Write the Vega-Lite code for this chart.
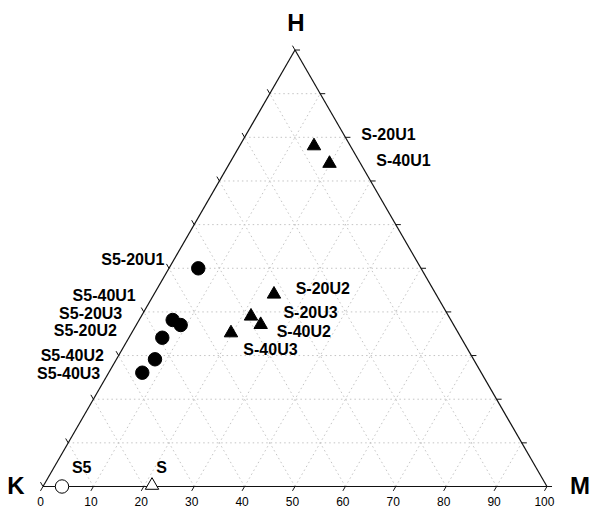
{
  "$schema": "https://vega.github.io/schema/vega-lite/v6.json",
  "width": 594,
  "height": 509,
  "autosize": {"type": "none"},
  "padding": 0,
  "background": "white",
  "config": {"view": {"stroke": null}},
  "datasets": {
    "grid": [
      {"x": 5, "y": 8.660, "x2": 95, "y2": 8.660},
      {"x": 10, "y": 17.321, "x2": 90, "y2": 17.321},
      {"x": 15, "y": 25.981, "x2": 85, "y2": 25.981},
      {"x": 20, "y": 34.641, "x2": 80, "y2": 34.641},
      {"x": 25, "y": 43.301, "x2": 75, "y2": 43.301},
      {"x": 30, "y": 51.962, "x2": 70, "y2": 51.962},
      {"x": 35, "y": 60.622, "x2": 65, "y2": 60.622},
      {"x": 40, "y": 69.282, "x2": 60, "y2": 69.282},
      {"x": 45, "y": 77.942, "x2": 55, "y2": 77.942},
      {"x": 10, "y": 0, "x2": 55, "y2": 77.942},
      {"x": 20, "y": 0, "x2": 60, "y2": 69.282},
      {"x": 30, "y": 0, "x2": 65, "y2": 60.622},
      {"x": 40, "y": 0, "x2": 70, "y2": 51.962},
      {"x": 50, "y": 0, "x2": 75, "y2": 43.301},
      {"x": 60, "y": 0, "x2": 80, "y2": 34.641},
      {"x": 70, "y": 0, "x2": 85, "y2": 25.981},
      {"x": 80, "y": 0, "x2": 90, "y2": 17.321},
      {"x": 90, "y": 0, "x2": 95, "y2": 8.660},
      {"x": 10, "y": 0, "x2": 5, "y2": 8.660},
      {"x": 20, "y": 0, "x2": 10, "y2": 17.321},
      {"x": 30, "y": 0, "x2": 15, "y2": 25.981},
      {"x": 40, "y": 0, "x2": 20, "y2": 34.641},
      {"x": 50, "y": 0, "x2": 25, "y2": 43.301},
      {"x": 60, "y": 0, "x2": 30, "y2": 51.962},
      {"x": 70, "y": 0, "x2": 35, "y2": 60.622},
      {"x": 80, "y": 0, "x2": 40, "y2": 69.282},
      {"x": 90, "y": 0, "x2": 45, "y2": 77.942}
    ],
    "edges": [
      {"x": 0, "y": 0, "x2": 100, "y2": 0},
      {"x": 0, "y": 0, "x2": 50, "y2": 86.603},
      {"x": 100, "y": 0, "x2": 50, "y2": 86.603}
    ],
    "ticks": [
      {"x": 0, "y": 0, "x2": -0.5, "y2": -0.866},
      {"x": 10, "y": 0, "x2": 9.5, "y2": -0.866},
      {"x": 20, "y": 0, "x2": 19.5, "y2": -0.866},
      {"x": 30, "y": 0, "x2": 29.5, "y2": -0.866},
      {"x": 40, "y": 0, "x2": 39.5, "y2": -0.866},
      {"x": 50, "y": 0, "x2": 49.5, "y2": -0.866},
      {"x": 60, "y": 0, "x2": 59.5, "y2": -0.866},
      {"x": 70, "y": 0, "x2": 69.5, "y2": -0.866},
      {"x": 80, "y": 0, "x2": 79.5, "y2": -0.866},
      {"x": 90, "y": 0, "x2": 89.5, "y2": -0.866},
      {"x": 100, "y": 0, "x2": 99.5, "y2": -0.866},
      {"x": 0, "y": 0, "x2": -0.5, "y2": 0.866},
      {"x": 5, "y": 8.660, "x2": 4.5, "y2": 9.526},
      {"x": 10, "y": 17.321, "x2": 9.5, "y2": 18.187},
      {"x": 15, "y": 25.981, "x2": 14.5, "y2": 26.847},
      {"x": 20, "y": 34.641, "x2": 19.5, "y2": 35.507},
      {"x": 25, "y": 43.301, "x2": 24.5, "y2": 44.167},
      {"x": 30, "y": 51.962, "x2": 29.5, "y2": 52.828},
      {"x": 35, "y": 60.622, "x2": 34.5, "y2": 61.488},
      {"x": 40, "y": 69.282, "x2": 39.5, "y2": 70.148},
      {"x": 45, "y": 77.942, "x2": 44.5, "y2": 78.808},
      {"x": 50, "y": 86.603, "x2": 49.5, "y2": 87.469},
      {"x": 100, "y": 0, "x2": 101, "y2": 0},
      {"x": 95, "y": 8.660, "x2": 96, "y2": 8.660},
      {"x": 90, "y": 17.321, "x2": 91, "y2": 17.321},
      {"x": 85, "y": 25.981, "x2": 86, "y2": 25.981},
      {"x": 80, "y": 34.641, "x2": 81, "y2": 34.641},
      {"x": 75, "y": 43.301, "x2": 76, "y2": 43.301},
      {"x": 70, "y": 51.962, "x2": 71, "y2": 51.962},
      {"x": 65, "y": 60.622, "x2": 66, "y2": 60.622},
      {"x": 60, "y": 69.282, "x2": 61, "y2": 69.282},
      {"x": 55, "y": 77.942, "x2": 56, "y2": 77.942},
      {"x": 50, "y": 86.603, "x2": 51, "y2": 86.603}
    ],
    "ticklabels": [
      {"x": -0.5, "y": -3.1, "label": "0"},
      {"x": 9.5, "y": -3.1, "label": "10"},
      {"x": 19.5, "y": -3.1, "label": "20"},
      {"x": 29.5, "y": -3.1, "label": "30"},
      {"x": 39.5, "y": -3.1, "label": "40"},
      {"x": 49.5, "y": -3.1, "label": "50"},
      {"x": 59.5, "y": -3.1, "label": "60"},
      {"x": 69.5, "y": -3.1, "label": "70"},
      {"x": 79.5, "y": -3.1, "label": "80"},
      {"x": 89.5, "y": -3.1, "label": "90"},
      {"x": 99.5, "y": -3.1, "label": "100"}
    ],
    "vertices": [
      {"x": 50.2, "y": 91.77, "label": "H"},
      {"x": -5.36, "y": 0, "label": "K"},
      {"x": 106.55, "y": 0, "label": "M"}
    ],
    "points": [
      {"sample": "S-20U1", "series": "S", "treated": "yes", "x": 53.77, "y": 67.96},
      {"sample": "S-40U1", "series": "S", "treated": "yes", "x": 56.85, "y": 64.48},
      {"sample": "S-20U2", "series": "S", "treated": "yes", "x": 45.83, "y": 38.53},
      {"sample": "S-20U3", "series": "S", "treated": "yes", "x": 41.27, "y": 34.17},
      {"sample": "S-40U2", "series": "S", "treated": "yes", "x": 43.19, "y": 32.50},
      {"sample": "S-40U3", "series": "S", "treated": "yes", "x": 37.30, "y": 30.85},
      {"sample": "S5-20U1", "series": "S5", "treated": "yes", "x": 30.81, "y": 43.29},
      {"sample": "S5-40U1", "series": "S5", "treated": "yes", "x": 25.73, "y": 33.04},
      {"sample": "S5-20U3", "series": "S5", "treated": "yes", "x": 27.32, "y": 32.04},
      {"sample": "S5-20U2", "series": "S5", "treated": "yes", "x": 23.67, "y": 29.52},
      {"sample": "S5-40U2", "series": "S5", "treated": "yes", "x": 22.22, "y": 25.24},
      {"sample": "S5-40U3", "series": "S5", "treated": "yes", "x": 19.70, "y": 22.58},
      {"sample": "S5", "series": "S5", "treated": "no", "x": 3.77, "y": 0},
      {"sample": "S", "series": "S", "treated": "no", "x": 21.63, "y": 0.6}
    ],
    "labels": [
      {"label": "S-20U1", "x": 68.55, "y": 69.84},
      {"label": "S-40U1", "x": 71.53, "y": 64.58},
      {"label": "S5-20U1", "x": 17.82, "y": 44.94},
      {"label": "S-20U2", "x": 55.52, "y": 39.19},
      {"label": "S-20U3", "x": 53.08, "y": 34.52},
      {"label": "S-40U2", "x": 51.75, "y": 30.65},
      {"label": "S-40U3", "x": 45.14, "y": 27.08},
      {"label": "S5-40U1", "x": 12.14, "y": 37.80},
      {"label": "S5-20U3", "x": 9.46, "y": 34.23},
      {"label": "S5-20U2", "x": 8.39, "y": 30.85},
      {"label": "S5-40U2", "x": 5.81, "y": 25.89},
      {"label": "S5-40U3", "x": 5.10, "y": 22.32},
      {"label": "S5", "x": 7.68, "y": 3.77},
      {"label": "S", "x": 23.55, "y": 3.77}
    ]
  },
  "layer": [
    {
      "data": {"name": "grid"},
      "mark": {"type": "rule", "color": "#c4c4c4", "strokeWidth": 1, "strokeDash": [1.5, 3]},
      "encoding": {
        "x": {"field": "x", "type": "quantitative", "scale": {"domain": [-8.532, 109.33], "nice": false, "zero": false}, "axis": null},
        "y": {"field": "y", "type": "quantitative", "scale": {"domain": [-4.464, 96.53], "nice": false, "zero": false}, "axis": null},
        "x2": {"field": "x2"},
        "y2": {"field": "y2"}
      }
    },
    {
      "data": {"name": "edges"},
      "mark": {"type": "rule", "color": "#111111", "strokeWidth": 1.2},
      "encoding": {
        "x": {"field": "x", "type": "quantitative", "scale": {"domain": [-8.532, 109.33], "nice": false, "zero": false}, "axis": null},
        "y": {"field": "y", "type": "quantitative", "scale": {"domain": [-4.464, 96.53], "nice": false, "zero": false}, "axis": null},
        "x2": {"field": "x2"},
        "y2": {"field": "y2"}
      }
    },
    {
      "data": {"name": "ticks"},
      "mark": {"type": "rule", "color": "#111111", "strokeWidth": 1},
      "encoding": {
        "x": {"field": "x", "type": "quantitative", "scale": {"domain": [-8.532, 109.33], "nice": false, "zero": false}, "axis": null},
        "y": {"field": "y", "type": "quantitative", "scale": {"domain": [-4.464, 96.53], "nice": false, "zero": false}, "axis": null},
        "x2": {"field": "x2"},
        "y2": {"field": "y2"}
      }
    },
    {
      "data": {"name": "ticklabels"},
      "mark": {"type": "text", "font": "Liberation Sans", "fontSize": 12, "align": "center", "baseline": "middle", "color": "#000000"},
      "encoding": {
        "x": {"field": "x", "type": "quantitative", "scale": {"domain": [-8.532, 109.33], "nice": false, "zero": false}, "axis": null},
        "y": {"field": "y", "type": "quantitative", "scale": {"domain": [-4.464, 96.53], "nice": false, "zero": false}, "axis": null},
        "text": {"field": "label"}
      }
    },
    {
      "data": {"name": "vertices"},
      "mark": {"type": "text", "font": "Liberation Sans", "fontSize": 24, "fontWeight": "bold", "align": "center", "baseline": "middle", "color": "#000000"},
      "encoding": {
        "x": {"field": "x", "type": "quantitative", "scale": {"domain": [-8.532, 109.33], "nice": false, "zero": false}, "axis": null},
        "y": {"field": "y", "type": "quantitative", "scale": {"domain": [-4.464, 96.53], "nice": false, "zero": false}, "axis": null},
        "text": {"field": "label"}
      }
    },
    {
      "data": {"name": "points"},
      "mark": {"type": "point", "filled": true, "size": 180, "stroke": "#000000", "strokeWidth": 1, "opacity": 1},
      "encoding": {
        "x": {"field": "x", "type": "quantitative", "scale": {"domain": [-8.532, 109.33], "nice": false, "zero": false}, "axis": null},
        "y": {"field": "y", "type": "quantitative", "scale": {"domain": [-4.464, 96.53], "nice": false, "zero": false}, "axis": null},
        "shape": {"field": "series", "type": "nominal", "scale": {"domain": ["S", "S5"], "range": ["triangle-up", "circle"]}, "legend": null},
        "fill": {"field": "treated", "type": "nominal", "scale": {"domain": ["yes", "no"], "range": ["#000000", "#ffffff"]}, "legend": null}
      }
    },
    {
      "data": {"name": "labels"},
      "mark": {"type": "text", "font": "Liberation Sans", "fontSize": 16, "fontWeight": "bold", "align": "center", "baseline": "middle", "color": "#000000"},
      "encoding": {
        "x": {"field": "x", "type": "quantitative", "scale": {"domain": [-8.532, 109.33], "nice": false, "zero": false}, "axis": null},
        "y": {"field": "y", "type": "quantitative", "scale": {"domain": [-4.464, 96.53], "nice": false, "zero": false}, "axis": null},
        "text": {"field": "label"}
      }
    }
  ]
}
